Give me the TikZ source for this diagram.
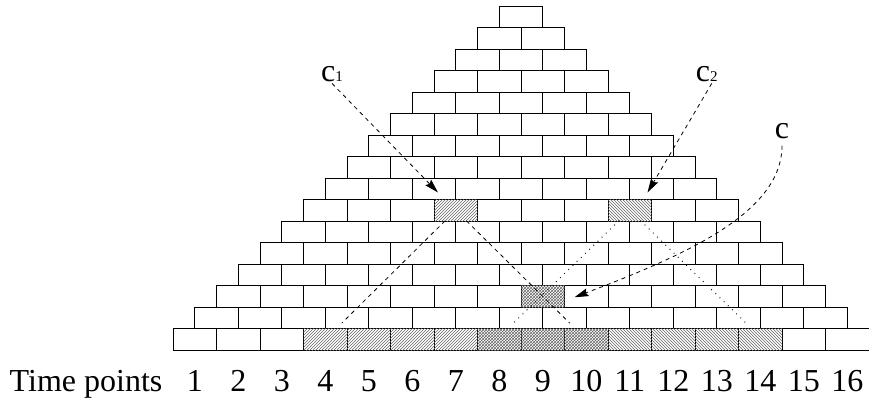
\documentclass[tikz,border=0pt]{standalone}
\usepackage{fontspec}
\setmainfont{Liberation Serif}
\usetikzlibrary{positioning, patterns, arrows.meta}

\begin{document}
\begin{tikzpicture}[x=43.5pt, y=21.5pt,
    brick/.style={draw, line width=0.8pt, minimum width=43.5pt, minimum height=21.5pt, inner sep=0pt, outer sep=0pt},
    lbl/.style={inner sep=1pt, font=\fontsize{32}{32}\selectfont},
    cone/.style={line width=0.8pt, dash pattern=on 4pt off 4pt, shorten <=15pt},
    dotline/.style={line width=1pt, dash pattern=on 0.8pt off 5pt, shorten <=15pt},
    ptr/.style={-{Stealth[length=14pt,width=8pt,inset=2pt,sep=0pt]}, line width=0.8pt, dash pattern=on 4pt off 4pt}]
  \useasboundingbox (-3.977,-2.419) rectangle (16,16.279);
  \foreach \k in {0,...,15} {
    \pgfmathtruncatemacro\n{15-\k}
    \foreach \j in {0,...,\n}
      \node[brick] (b\k-\j) at (\j+\k/2+0.5,\k+0.5) {};
  }
  \foreach \j in {3,...,6}
    \fill[pattern=north east lines, pattern color=black!60] (b0-\j.south west) rectangle (b0-\j.north east);
  \foreach \j in {7,...,9}
    \fill[pattern=crosshatch, pattern color=black!60] (b0-\j.south west) rectangle (b0-\j.north east);
  \foreach \j in {10,...,13}
    \fill[pattern=north west lines, pattern color=black!60] (b0-\j.south west) rectangle (b0-\j.north east);
  \fill[pattern=north east lines, pattern color=black!60] (b6-3.south west) rectangle (b6-3.north east);
  \fill[pattern=north west lines, pattern color=black!60] (b6-7.south west) rectangle (b6-7.north east);
  \fill[pattern=crosshatch, pattern color=black!60] (b2-7.south west) rectangle (b2-7.north east);

  \draw[cone] (b6-3.center) -- +(-2.62,-5.25);
  \draw[cone] (b6-3.center) -- +(2.62,-5.25);
  \draw[dotline] (b6-7.center) -- +(-2.7,-5.3);
  \draw[dotline] (b6-7.center) -- +(2.7,-5.3);

  \foreach \i in {1,...,16}
    \node[lbl, anchor=base] (t\i) at (\i-0.5,-1.953) {\i};
  \node[lbl, base left=22pt of t1] (tp) {Time points};

  \node[lbl, anchor=base] (lc1) at (3.655,12.47) {c\fontsize{15}{15}\selectfont 1};
  \node[lbl, anchor=base] (lc2) at (12.27,12.47) {c\fontsize{15}{15}\selectfont 2};
  \node[lbl, anchor=base] (lc) at (14.0,9.86) {c};

  \draw[ptr] (lc1.south) -- ([xshift=4pt,yshift=7pt]b6-3.north west);
  \draw[ptr] ([xshift=5pt]lc2.south) -- ([xshift=-4pt,yshift=7pt]b6-7.north east);
  \draw[ptr] ([yshift=-6pt]lc.south) .. controls +(0,-3.1) and +(2.6,2) .. ([xshift=10pt,yshift=-1pt]b2-7.east);
\end{tikzpicture}
\end{document}
